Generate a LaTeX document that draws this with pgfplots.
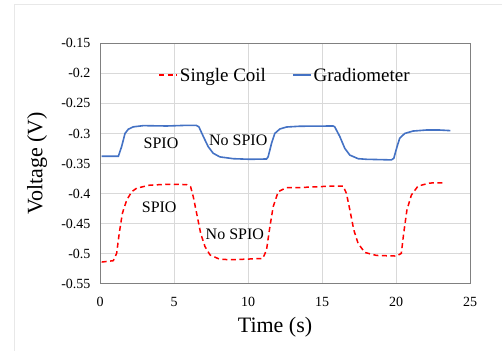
\documentclass[border=0pt]{standalone}
\usepackage{fontspec}
\setmainfont{Liberation Serif}
\usepackage{pgfplots}
\pgfplotsset{compat=1.18}
\definecolor{gblue}{HTML}{4472C4}
\definecolor{gridc}{HTML}{D9D9D9}
\definecolor{framec}{HTML}{808080}
\definecolor{outer}{HTML}{E8E8E8}
\begin{document}
\begin{tikzpicture}[x=1pt,y=1pt]
\useasboundingbox (0,0) rectangle (502,351);
\draw[outer, line width=1pt] (14,0) -- (14,346) -- (502,346);
\begin{axis}[
  at={(100pt,67.3pt)}, anchor=south west,
  width=370pt, height=240.4pt, scale only axis,
  xmin=0, xmax=25, ymin=-0.55, ymax=-0.15,
  xtick={0,5,10,15,20,25},
  xticklabels={0,5,10,15,20,25},
  ytick={-0.55,-0.5,-0.45,-0.4,-0.35,-0.3,-0.25,-0.2,-0.15},
  yticklabels={-0.55,-0.5,-0.45,-0.4,-0.35,-0.3,-0.25,-0.2,-0.15},
  grid=major,
  major grid style={gridc, line width=0.8pt},
  axis line style={framec, line width=1pt},
  major tick length=0pt,
  tick label style={font=\fontsize{14}{16}\selectfont},
  xticklabel style={yshift=-10pt},
  yticklabel style={xshift=-6pt},
  xlabel={Time (s)},
  ylabel={Voltage (V)},
  label style={font=\fontsize{22}{24}\selectfont},
  xlabel style={at={(axis description cs:0.473,-0.18)}, anchor=center},
  ylabel style={at={(axis description cs:-0.17,0.5)}, anchor=center, rotate=0},
  legend columns=2,
  legend style={at={(axis description cs:0.5,0.867)}, anchor=center, draw=none, fill=none,
    font=\fontsize{19}{21}\selectfont, /tikz/every even column/.append style={column sep=24pt}},
  legend image code/.code={\draw[#1, line width=1.6pt] (0pt,0pt) -- (18pt,0pt);},
]
\addplot[red, line width=1.5pt, dash pattern=on 5pt off 3.5pt] coordinates {
(0.11,-0.514) (0.9,-0.5117) (1.125,-0.4995) (1.3,-0.466) (1.51,-0.433) (1.8,-0.411)
(2.14,-0.397) (2.48,-0.391) (3.37,-0.386) (4.5,-0.3847) (5.85,-0.385) (6.12,-0.3886)
(6.3,-0.405) (6.53,-0.433) (6.8,-0.466) (7.09,-0.488) (7.43,-0.502) (8.1,-0.5095)
(9.0,-0.51) (11.0,-0.508) (11.25,-0.494) (11.48,-0.455) (11.7,-0.422) (12.04,-0.397)
(12.6,-0.390) (13.5,-0.390) (15.75,-0.3875) (16.43,-0.3875) (16.65,-0.3997) (16.88,-0.427)
(17.15,-0.4607) (17.44,-0.483) (17.89,-0.498) (18.68,-0.503) (20.03,-0.504) (20.36,-0.4995)
(20.52,-0.466) (20.74,-0.427) (21.04,-0.4024) (21.49,-0.3875) (22.28,-0.3825) (23.29,-0.382)
};
\addlegendentry{Single Coil}
\addplot[gblue, line width=1.6pt] coordinates {
(0.11,-0.338) (1.24,-0.338) (1.46,-0.322) (1.69,-0.300) (1.91,-0.293) (2.25,-0.289)
(2.93,-0.287) (4.5,-0.2876) (5.85,-0.2865) (6.5,-0.2865) (6.68,-0.289) (6.98,-0.305)
(7.31,-0.322) (7.65,-0.333) (8.1,-0.339) (9.0,-0.342) (10.13,-0.343) (11.25,-0.3425)
(11.36,-0.339) (11.59,-0.3165) (11.81,-0.300) (12.15,-0.2926) (12.6,-0.2893) (13.5,-0.288)
(15.75,-0.2876) (15.86,-0.289) (16.2,-0.305) (16.54,-0.3248) (16.88,-0.336) (17.44,-0.342)
(18.0,-0.343) (19.69,-0.344) (19.85,-0.3414) (20.07,-0.322) (20.25,-0.308) (20.59,-0.300)
(21.15,-0.296) (22.05,-0.2943) (22.95,-0.2943) (23.67,-0.2953)
};
\addlegendentry{Gradiometer}
\node[font=\fontsize{16}{18}\selectfont] at (axis cs:4.12,-0.3164) {SPIO};
\node[font=\fontsize{16}{18}\selectfont] at (axis cs:9.34,-0.312) {No SPIO};
\node[font=\fontsize{16}{18}\selectfont] at (axis cs:4.0,-0.423) {SPIO};
\node[font=\fontsize{16}{18}\selectfont] at (axis cs:9.11,-0.468) {No SPIO};
\end{axis}
\end{tikzpicture}
\end{document}
